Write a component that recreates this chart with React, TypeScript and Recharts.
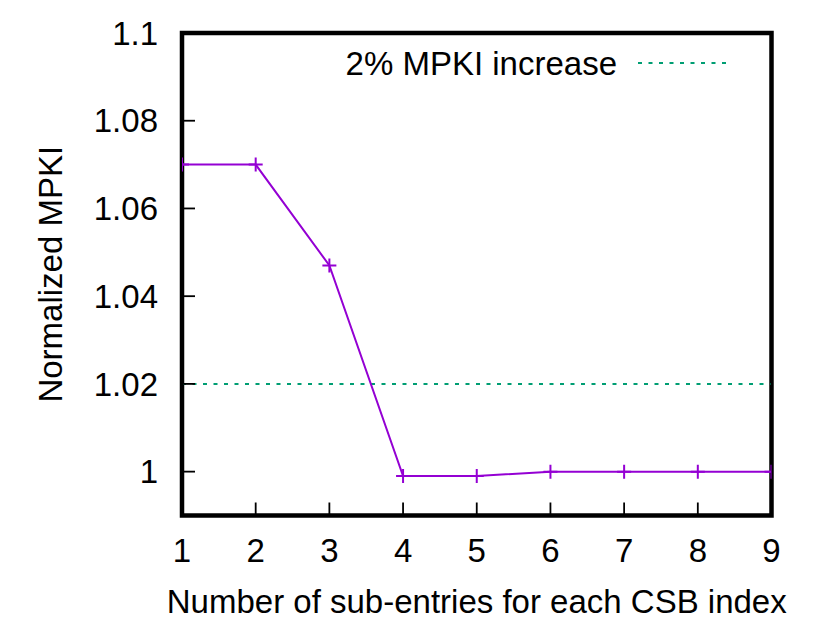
import React from "react";
import {
  LineChart,
  Line,
  XAxis,
  YAxis,
  ReferenceLine,
  ReferenceArea,
} from "recharts";

const subEntries = [1, 2, 3, 4, 5, 6, 7, 8, 9];
const normalizedMpki = [1.07, 1.07, 1.047, 0.999, 0.999, 1.0, 1.0, 1.0, 1.0];
const xTicks = [1, 2, 3, 4, 5, 6, 7, 8, 9];
const yTicks = [1, 1.02, 1.04, 1.06, 1.08, 1.1];
const xDomain = [1, 9];
const yDomain = [0.99, 1.1];
const thresholdValue = 1.02;
const thresholdLabel = "2% MPKI increase";

const data = subEntries.map((n, i) => ({ n, mpki: normalizedMpki[i] }));

const FONT = "'Liberation Sans', Arial, Helvetica, sans-serif";
const PURPLE = "#9400d3";
const GREEN = "#009e73";
const FS = 33;
const tickStyle = { fontSize: FS, fill: "#000", fontFamily: FONT };
const borderLine = { stroke: "#000", strokeWidth: 2 };
const tickLineStyle = { stroke: "#000", strokeWidth: 1.8 };

const PlusDot = (props: any) => {
  const { cx, cy, index } = props;
  if (cx == null || cy == null) return <g key={`d${index}`} />;
  return (
    <path
      key={`d${index}`}
      d={`M${cx - 7},${cy}h14M${cx},${cy - 7}v14`}
      stroke={PURPLE}
      strokeWidth={2}
      fill="none"
    />
  );
};

export default function App() {
  return (
    <div
      style={{
        position: "absolute",
        left: 0,
        top: 0,
        width: 830,
        height: 623,
        background: "#fff",
        fontFamily: FONT,
      }}
    >
      <LineChart
        width={830}
        height={623}
        data={data}
        margin={{ top: 0, right: 0, bottom: 0, left: 0 }}
      >
        <XAxis
          xAxisId="bottom"
          dataKey="n"
          type="number"
          domain={xDomain}
          ticks={xTicks}
          allowDataOverflow
          height={107.5}
          stroke="#000"
          axisLine={borderLine}
          tickLine={tickLineStyle}
          tickSize={-13}
          tickMargin={36}
          tick={tickStyle}
          label={{
            value: "Number of sub-entries for each CSB index",
            position: "insideBottom",
            offset: 10.5,
            style: { fontSize: FS, fill: "#000", fontFamily: FONT },
          }}
        />
        <XAxis
          xAxisId="top"
          orientation="top"
          dataKey="n"
          type="number"
          domain={xDomain}
          ticks={xTicks}
          allowDataOverflow
          height={33}
          stroke="#000"
          axisLine={borderLine}
          tickLine={tickLineStyle}
          tickSize={-13}
          tick={false}
        />
        <YAxis
          yAxisId="left"
          type="number"
          domain={yDomain}
          ticks={yTicks}
          allowDataOverflow
          width={182}
          stroke="#000"
          axisLine={borderLine}
          tickLine={tickLineStyle}
          tickSize={-13}
          tickMargin={37}
          tick={tickStyle}
          tickFormatter={(v: number) => String(v)}
          label={{
            value: "Normalized MPKI",
            angle: -90,
            position: "insideLeft",
            offset: 50,
            style: {
              fontSize: FS,
              fill: "#000",
              fontFamily: FONT,
              textAnchor: "middle",
            },
          }}
        />
        <YAxis
          yAxisId="right"
          orientation="right"
          type="number"
          domain={yDomain}
          ticks={yTicks}
          allowDataOverflow
          width={58.5}
          stroke="#000"
          axisLine={borderLine}
          tickLine={tickLineStyle}
          tickSize={-13}
          tick={false}
        />
        <ReferenceLine
          xAxisId="bottom"
          yAxisId="left"
          y={thresholdValue}
          stroke={GREEN}
          strokeWidth={2}
          strokeDasharray="4 6.5"
        />
        <Line
          xAxisId="bottom"
          yAxisId="left"
          type="linear"
          dataKey="mpki"
          stroke={PURPLE}
          strokeWidth={2}
          dot={PlusDot}
          activeDot={false}
          isAnimationActive={false}
        />
        {/* thick plot frame, as in the gnuplot original */}
        <ReferenceArea
          xAxisId="bottom"
          yAxisId="left"
          x1={xDomain[0]}
          x2={xDomain[1]}
          y1={yDomain[0]}
          y2={yDomain[1]}
          fill="none"
          fillOpacity={0}
          stroke="#000"
          strokeWidth={4.5}
          ifOverflow="visible"
        />
      </LineChart>
      <div
        style={{
          position: "absolute",
          top: 47,
          right: 213,
          fontSize: FS,
          lineHeight: "33px",
          color: "#000",
          whiteSpace: "nowrap",
        }}
      >
        {thresholdLabel}
      </div>
      <svg
        style={{ position: "absolute", left: 636, top: 57 }}
        width={94}
        height={12}
      >
        <line
          x1={2}
          y1={6}
          x2={92}
          y2={6}
          stroke={GREEN}
          strokeWidth={2}
          strokeDasharray="4 6.5"
        />
      </svg>
    </div>
  );
}
